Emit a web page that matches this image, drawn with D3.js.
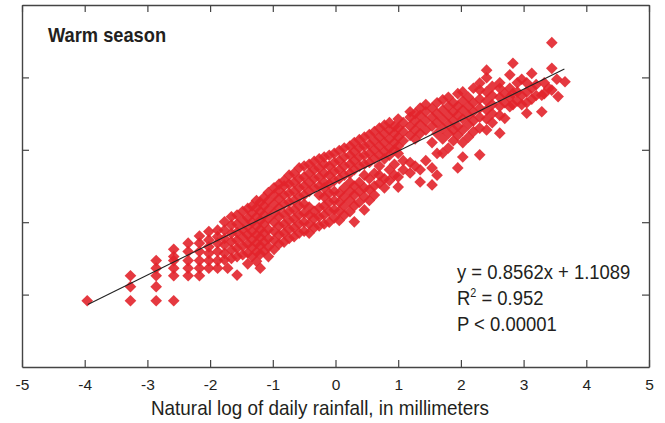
<!DOCTYPE html>
<html>
  <head>
    <meta charset="UTF-8">
    <title>Warm season</title>
    <style>
      body { margin: 0; background: #fff; }
      text { fill: #231f20; font-family: 'Liberation Sans Narrow', 'Arial Narrow', 'Liberation Sans', sans-serif; }
    </style>
  </head>
  <body>
    <div id='chart'></div>
    <script src='https://d3js.org/d3.v7.min.js'></script>
    <script>

      // x = natural log of daily rainfall, grouped by x; each entry lists the y values seen at that x
      const columns = [
        [-3.96, [-2.17]],
        [-3.27, [-2.17, -1.78, -1.48]],
        [-2.86, [-2.17, -1.78, -1.48, -1.27, -1.06]],
        [-2.58, [-2.17, -1.48, -1.27, -1.06, -0.95, -0.75]],
        [-2.35, [-1.48, -1.27, -1.06, -0.81, -0.58]],
        [-2.17, [-1.48, -1.27, -1.06, -0.81, -0.58, -0.38]],
        [-2.02, [-1.27, -1.06, -0.86, -0.68, -0.49, -0.26]],
        [-1.88, [-1.27, -1.06, -0.81, -0.58, -0.40, -0.22]],
        [-1.77, [-1.04, -0.86, -0.63, -0.45, -0.22, 0.01]],
        [-1.72, [-1.27]],
        [-1.66, [-1.0, -0.77, -0.54, -0.31, -0.08, 0.15]],
        [-1.57, [-1.46, -0.95, -0.72, -0.5, -0.28, -0.05, 0.2]],
        [-1.48, [-0.9, -0.66, -0.42, -0.2, 0.05, 0.3]],
        [-1.40, [-1.15, -0.85, -0.6, -0.35, -0.12, 0.12, 0.38]],
        [-1.33, [-0.95, -0.7, -0.48, -0.25, 0.0, 0.25, 0.45]],
        [-1.26, [-1.08, -0.82, -0.58, -0.35, -0.1, 0.15, 0.4, 0.6]],
        [-1.20, [-1.27, -0.88, -0.65, -0.42, -0.2, 0.05, 0.3, 0.55]],
        [-1.14, [-0.8, -0.55, -0.3, -0.05, 0.2, 0.45, 0.68]],
        [-1.07, [-0.95, -0.68, -0.45, -0.2, 0.1, 0.35, 0.6, 0.82]],
        [-0.98, [-0.75, -0.5, -0.25, 0.0, 0.25, 0.5, 0.75, 0.95]],
        [-0.90, [-0.6, -0.35, -0.1, 0.15, 0.4, 0.65, 0.88, 1.05]],
        [-0.82, [-0.55, -0.3, -0.05, 0.22, 0.5, 0.75, 1.0, 1.15]],
        [-0.74, [-0.45, -0.2, 0.05, 0.3, 0.55, 0.8, 1.05, 1.3]],
        [-0.66, [-0.4, -0.15, 0.1, 0.35, 0.6, 0.85, 1.1, 1.35]],
        [-0.58, [-0.3, -0.05, 0.2, 0.45, 0.7, 0.95, 1.2, 1.5]],
        [-0.50, [-0.25, 0.0, 0.25, 0.5, 0.75, 1.0, 1.25, 1.55]],
        [-0.42, [-0.3, -0.05, 0.2, 0.42, 0.85, 1.1, 1.35, 1.6]],
        [-0.34, [-0.15, 0.1, 0.3, 0.95, 1.2, 1.45, 1.68]],
        [-0.26, [-0.1, 0.15, 0.4, 0.75, 1.0, 1.25, 1.5, 1.75]],
        [-0.18, [-0.05, 0.2, 0.45, 0.7, 0.95, 1.1, 1.35, 1.6, 1.8]],
        [-0.10, [0.0, 0.3, 0.55, 0.8, 1.05, 1.3, 1.55, 1.85]],
        [-0.02, [0.12, 0.35, 0.6, 0.85, 1.15, 1.4, 1.65, 1.9]],
        [0.06, [0.05, 0.3, 0.55, 0.8, 1.2, 1.45, 1.7, 1.98]],
        [0.14, [0.2, 0.45, 0.7, 0.95, 1.3, 1.55, 1.8, 2.05]],
        [0.23, [0.29, 0.6, 0.85, 1.1, 1.35, 1.6, 1.85, 2.1]],
        [0.30, [0.01, 0.45, 0.75, 1.0, 1.45, 1.7, 1.95, 2.2]],
        [0.38, [0.55, 0.85, 1.1, 1.55, 1.8, 2.05, 2.28]],
        [0.46, [0.34, 0.7, 0.95, 1.3, 1.6, 1.85, 2.1, 2.35]],
        [0.54, [0.6, 0.9, 1.2, 1.65, 1.9, 2.15, 2.42]],
        [0.62, [0.75, 1.0, 1.35, 1.75, 2.0, 2.25, 2.5]],
        [0.70, [1.08, 1.3, 1.55, 1.85, 2.1, 2.35, 2.6]],
        [0.78, [0.95, 1.2, 1.75, 1.95, 2.2, 2.45, 2.68]],
        [0.86, [1.15, 1.45, 1.85, 2.05, 2.3, 2.55, 2.75]],
        [0.94, [1.3, 1.6, 2.0, 2.2, 2.45, 2.65]],
        [1.00, [0.97, 1.25, 1.9, 2.1, 2.35, 2.6, 2.85]],
        [1.08, [1.45, 1.7, 2.25, 2.5, 2.75]],
        [1.19, [1.36, 1.65, 2.4, 2.65, 2.9, 3.05]],
        [1.27, [1.55, 2.3, 2.55, 2.8, 3.0]],
        [1.35, [1.11, 1.45, 2.45, 2.7, 2.95, 3.15]],
        [1.44, [1.7, 2.55, 2.8, 3.05, 3.25]],
        [1.54, [1.03, 1.5, 2.2, 2.65, 2.9, 3.15]],
        [1.62, [1.30, 1.9, 2.45, 2.75, 3.0, 3.3]],
        [1.71, [1.91, 2.3, 2.6, 2.85, 3.1, 3.38]],
        [1.80, [2.05, 2.45, 2.7, 2.95, 3.2, 3.45]],
        [1.88, [2.25, 2.55, 2.8, 3.05, 3.3]],
        [1.95, [1.50, 2.4, 2.65, 2.95, 3.2, 3.55]],
        [2.03, [1.80, 2.2, 2.55, 2.85, 3.1, 3.35, 3.6]],
        [2.12, [2.35, 2.7, 2.95, 3.2, 3.45]],
        [2.20, [2.5, 2.8, 3.05, 3.3, 3.7]],
        [2.30, [1.86, 2.6, 2.9, 3.15, 3.4, 3.65, 3.84]],
        [2.41, [2.55, 2.85, 3.1, 3.35, 3.6, 3.99, 4.2]],
        [2.50, [2.75, 3.0, 3.25, 3.5, 3.75]],
        [2.62, [2.46, 2.95, 3.2, 3.45, 3.7, 3.85]],
        [2.70, [2.87, 3.3, 3.55]],
        [2.78, [3.19, 3.45, 3.7, 4.07]],
        [2.83, [3.25, 3.55, 4.39]],
        [2.90, [3.35, 3.6, 3.85]],
        [2.97, [3.25, 3.5, 3.95]],
        [3.05, [3.01, 3.3, 3.6, 3.85]],
        [3.13, [3.4, 3.7, 4.11]],
        [3.20, [3.5, 3.8]],
        [3.29, [3.05, 3.51]],
        [3.33, [3.55, 3.85]],
        [3.40, [3.7]],
        [3.45, [3.65, 4.25, 4.96]],
        [3.53, [3.95]],
        [3.55, [3.47]],
        [3.66, [3.88]]
      ];

      const slope = 0.8562;
      const intercept = 1.1089;
      const fitRange = [-3.95, 3.65];
      const xTicks = [-5, -4, -3, -2, -1, 0, 1, 2, 3, 4, 5];
      const yTicks = [-2, 0, 2, 4];
      const statLines = ['y = 0.8562x + 1.1089', 'R2 = 0.952', 'P < 0.00001'];

      const points = columns.flatMap(([x, ys]) => ys.map((y) => ({ x, y })));

      const width = 665;
      const height = 423;
      const plotLeft = 22, plotRight = 649, plotTop = 5, plotBottom = 367;

      const x = d3.scaleLinear().domain([-5, 5]).range([plotLeft, plotRight]);
      const y = d3.scaleLinear().domain([-4, 6]).range([plotBottom, plotTop]);

      const svg = d3.select('#chart')
        .append('svg')
        .attr('width', width)
        .attr('height', height);

      // points
      const diamond = d3.symbol().type(d3.symbolSquare).size(68)();
      svg.append('g')
        .selectAll('path')
        .data(points)
        .enter().append('path')
        .attr('d', diamond)
        .attr('transform', (d) => `translate(${x(d.x)},${y(d.y)}) rotate(45)`)
        .attr('fill', '#e2232b')
        .attr('fill-opacity', 0.9);

      // fitted line
      svg.append('line')
        .attr('x1', x(fitRange[0]))
        .attr('y1', y(slope * fitRange[0] + intercept))
        .attr('x2', x(fitRange[1]))
        .attr('y2', y(slope * fitRange[1] + intercept))
        .attr('stroke', '#222')
        .attr('stroke-width', 1.1);

      // axes, ticks pointing inward on all four sides
      const axisStyle = (g) => {
        g.select('.domain').attr('stroke', '#444').attr('stroke-width', 1.4);
        g.selectAll('.tick line').attr('stroke', '#444').attr('stroke-width', 1.2);
      };

      svg.append('g')
        .attr('transform', `translate(0,${plotBottom})`)
        .call(d3.axisBottom(x).tickValues(xTicks).tickFormat((d) => String(d))
          .tickSizeInner(-7).tickSizeOuter(0).tickPadding(12))
        .call(axisStyle)
        .call((g) => g.selectAll('.tick text')
          .attr('font-size', 15.5)
          .attr('fill', '#231f20')
          .attr('font-family', "'Liberation Sans Narrow', 'Arial Narrow', sans-serif"));

      svg.append('g')
        .attr('transform', `translate(0,${plotTop})`)
        .call(d3.axisTop(x).tickValues(xTicks).tickSizeInner(-7).tickSizeOuter(0).tickFormat(''))
        .call(axisStyle);

      svg.append('g')
        .attr('transform', `translate(${plotLeft},0)`)
        .call(d3.axisLeft(y).tickValues(yTicks).tickSizeInner(-7).tickSizeOuter(0).tickFormat(''))
        .call(axisStyle);

      svg.append('g')
        .attr('transform', `translate(${plotRight},0)`)
        .call(d3.axisRight(y).tickValues(yTicks).tickSizeInner(-7).tickSizeOuter(0).tickFormat(''))
        .call(axisStyle);

      // the original uses a condensed face, so text is squeezed sideways
      const squeezed = (px, py, sx) => `translate(${px},${py}) scale(${sx},1)`;

      // panel label
      svg.append('text')
        .attr('transform', squeezed(48, 42, 0.87))
        .attr('font-size', 21)
        .attr('font-weight', 'bold')
        .text('Warm season');

      // regression statistics
      const stats = svg.append('g')
        .attr('font-size', 20.5);
      stats.append('text').attr('transform', squeezed(457, 279, 0.9)).text(statLines[0]);
      const r2 = stats.append('text').attr('transform', squeezed(457, 305, 0.9));
      r2.append('tspan').text('R');
      r2.append('tspan').attr('font-size', 12).attr('dy', -8).text('2');
      r2.append('tspan').attr('dy', 8).text(statLines[1].slice(2));
      stats.append('text').attr('transform', squeezed(457, 331, 0.9)).text(statLines[2]);

      // axis title
      svg.append('text')
        .attr('transform', squeezed(320, 415, 0.9))
        .attr('text-anchor', 'middle')
        .attr('font-size', 21)
        .text('Natural log of daily rainfall, in millimeters');

    </script>
  </body>
</html>
